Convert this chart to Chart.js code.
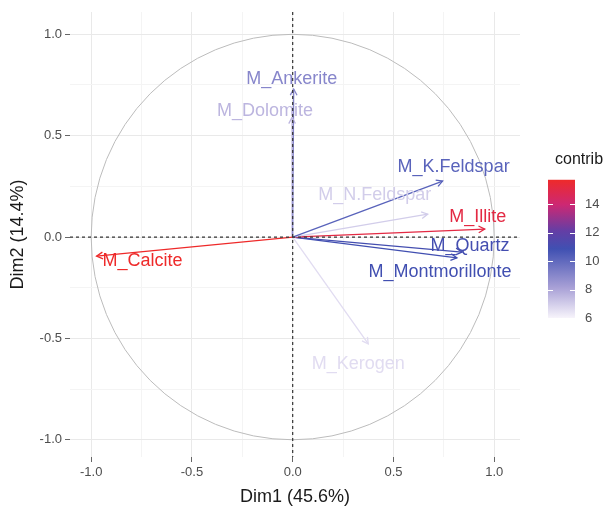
<!DOCTYPE html>
<html>
<head>
<meta charset="utf-8">
<script src="https://cdn.jsdelivr.net/npm/chart.js@4.4.1/dist/chart.umd.min.js"></script>
<style>
  html, body { margin: 0; padding: 0; background: #fff; }
</style>
</head>
<body>
<canvas id="pca" width="612" height="511"></canvas>
<script>
// variable coordinates on the first two dimensions + their contribution
const variables = ['M_Calcite', 'M_Ankerite', 'M_Dolomite', 'M_K.Feldspar', 'M_N.Feldspar',
                   'M_Illite', 'M_Quartz', 'M_Montmorillonte', 'M_Kerogen'];
const dim1 = [-0.973, 0.005, -0.003, 0.744, 0.670, 0.953, 0.840, 0.815, 0.375];
const dim2 = [-0.094, 0.730, 0.590, 0.276, 0.113, 0.039, -0.074, -0.103, -0.527];
const contrib = [15.7, 9.0, 7.6, 10.2, 7.0, 15.1, 11.0, 10.9, 6.6];
const gridValues = [-1, -0.75, -0.5, -0.25, 0, 0.25, 0.5, 0.75, 1];
const legendTicks = [6, 8, 10, 12, 14];
const xTitle = 'Dim1 (45.6%)';
const yTitle = 'Dim2 (14.4%)';
const legendTitle = 'contrib';

// label nudges in px (repel-style placement)
const labelNudge = [[46, 5], [-2, -10], [-27, -6], [11, -14], [-53, -19],
                    [-7, -12], [8, -6], [-17, 14], [-10, 20]];

const FONT = '"Liberation Sans", Arial, sans-serif';
const cMin = 6.0, cMax = 15.7;
// white -> blue -> red gradient (approx. Lab look)
const stops = [
  [0.00, [247, 244, 251]],
  [0.22, [168, 160, 214]],
  [0.50, [64, 80, 178]],
  [0.63, [100, 62, 165]],
  [0.82, [205, 40, 115]],
  [1.00, [238, 42, 42]]
];
function colorFor(v) {
  let f = (v - cMin) / (cMax - cMin);
  f = Math.max(0, Math.min(1, f));
  for (let i = 1; i < stops.length; i++) {
    if (f <= stops[i][0]) {
      const a = stops[i - 1], b = stops[i];
      const t = (f - a[0]) / (b[0] - a[0]);
      const c = a[1].map((k, j) => Math.round(k + (b[1][j] - k) * t));
      return 'rgb(' + c.join(',') + ')';
    }
  }
  return 'rgb(238,42,42)';
}

const datasets = variables.map((name, i) => ({
  label: name,
  data: [{x: 0, y: 0}, {x: dim1[i], y: dim2[i]}],
  showLine: true,
  borderColor: colorFor(contrib[i]),
  borderWidth: 1.3,
  pointRadius: 0,
  fill: false
}));

const isMajor = v => Math.abs(v * 2 - Math.round(v * 2)) < 1e-6;
const setGridTicks = s => { s.ticks = gridValues.map(v => ({value: v})); };

const pcaDecor = {
  id: 'pcaDecor',
  beforeDatasetsDraw(chart) {
    const {ctx, scales: {x, y}} = chart;
    const cx = x.getPixelForValue(0), cy = y.getPixelForValue(0);
    ctx.save();
    ctx.strokeStyle = '#bcbcbc';
    ctx.lineWidth = 1;
    ctx.beginPath();
    ctx.ellipse(cx, cy, x.getPixelForValue(1) - cx, cy - y.getPixelForValue(1), 0, 0, 2 * Math.PI);
    ctx.stroke();
    ctx.restore();
  },
  afterDatasetsDraw(chart) {
    const {ctx, chartArea: area, scales: {x, y}} = chart;
    ctx.save();
    // arrow heads
    chart.data.datasets.forEach((ds, i) => {
      const pts = chart.getDatasetMeta(i).data;
      const p0 = pts[0], p1 = pts[1];
      const ang = Math.atan2(p1.y - p0.y, p1.x - p0.x);
      ctx.strokeStyle = ds.borderColor;
      ctx.lineWidth = 1.3;
      ctx.beginPath();
      ctx.moveTo(p1.x - 7 * Math.cos(ang - 0.5), p1.y - 7 * Math.sin(ang - 0.5));
      ctx.lineTo(p1.x, p1.y);
      ctx.lineTo(p1.x - 7 * Math.cos(ang + 0.5), p1.y - 7 * Math.sin(ang + 0.5));
      ctx.stroke();
    });
    // variable labels
    ctx.font = '18px ' + FONT;
    ctx.textAlign = 'center';
    ctx.textBaseline = 'middle';
    chart.data.datasets.forEach((ds, i) => {
      const p1 = chart.getDatasetMeta(i).data[1];
      ctx.fillStyle = ds.borderColor;
      ctx.fillText(ds.label, p1.x + labelNudge[i][0], p1.y + labelNudge[i][1]);
    });
    // dashed zero lines
    const zx = x.getPixelForValue(0), zy = y.getPixelForValue(0);
    ctx.strokeStyle = '#333';
    ctx.lineWidth = 1.2;
    ctx.setLineDash([3, 3]);
    ctx.beginPath();
    ctx.moveTo(zx, area.top); ctx.lineTo(zx, area.bottom);
    ctx.moveTo(area.left, zy); ctx.lineTo(area.right, zy);
    ctx.stroke();
    ctx.restore();
  },
  afterDraw(chart) {
    // contrib colour bar
    const {ctx} = chart;
    const bx = 548, bw = 27;
    const vy = v => 318 - (v - cMin) * 14.25;
    const top = vy(cMax), bot = vy(cMin);
    ctx.save();
    const g = ctx.createLinearGradient(0, bot, 0, top);
    stops.forEach(s => g.addColorStop(s[0], 'rgb(' + s[1].join(',') + ')'));
    ctx.fillStyle = g;
    ctx.fillRect(bx, top, bw, bot - top);
    ctx.strokeStyle = '#fff';
    ctx.lineWidth = 1;
    ctx.font = '13px ' + FONT;
    ctx.fillStyle = '#4d4d4d';
    ctx.textAlign = 'left';
    ctx.textBaseline = 'middle';
    legendTicks.forEach(v => {
      const ty = Math.round(vy(v)) + 0.5;
      ctx.beginPath();
      ctx.moveTo(bx, ty); ctx.lineTo(bx + 5, ty);
      ctx.moveTo(bx + bw - 5, ty); ctx.lineTo(bx + bw, ty);
      ctx.stroke();
      ctx.fillText(String(v), 585, vy(v));
    });
    ctx.fillStyle = '#1a1a1a';
    ctx.font = '16px ' + FONT;
    ctx.fillText(legendTitle, 555, 160);
    ctx.restore();
  }
};

const tickFont = {family: FONT, size: 13};
const titleFont = {family: FONT, size: 18};

new Chart(document.getElementById('pca'), {
  type: 'scatter',
  data: {datasets},
  options: {
    responsive: false,
    animation: false,
    layout: {padding: {top: 12, right: 92, left: 0, bottom: 0}},
    plugins: {legend: {display: false}, tooltip: {enabled: false}},
    scales: {
      x: {
        type: 'linear', min: -1.105, max: 1.128,
        afterBuildTicks: setGridTicks,
        afterFit: s => { s.height = 54; },
        ticks: {autoSkip: false, maxRotation: 0, padding: 3,
                color: '#4d4d4d', font: tickFont,
                callback: v => isMajor(v) ? v.toFixed(1) : ''},
        grid: {color: c => isMajor(c.tick.value) ? '#e9e9e9' : '#f4f4f4',
               tickColor: c => isMajor(c.tick.value) ? '#666' : 'rgba(0,0,0,0)',
               tickLength: 5, lineWidth: 1},
        border: {display: false},
        title: {display: true, text: xTitle, color: '#1a1a1a', font: titleFont,
                padding: {top: 0, bottom: 3}}
      },
      y: {
        type: 'linear', min: -1.085, max: 1.11,
        afterBuildTicks: setGridTicks,
        afterFit: s => { s.width = 70; },
        ticks: {autoSkip: false, padding: 3,
                color: '#4d4d4d', font: tickFont,
                callback: v => isMajor(v) ? v.toFixed(1) : ''},
        grid: {color: c => isMajor(c.tick.value) ? '#e9e9e9' : '#f4f4f4',
               tickColor: c => isMajor(c.tick.value) ? '#666' : 'rgba(0,0,0,0)',
               tickLength: 5, lineWidth: 1},
        border: {display: false},
        title: {display: true, text: yTitle, color: '#1a1a1a', font: titleFont,
                padding: {top: 7, bottom: 0}}
      }
    }
  },
  plugins: [pcaDecor]
});
</script>
</body>
</html>
